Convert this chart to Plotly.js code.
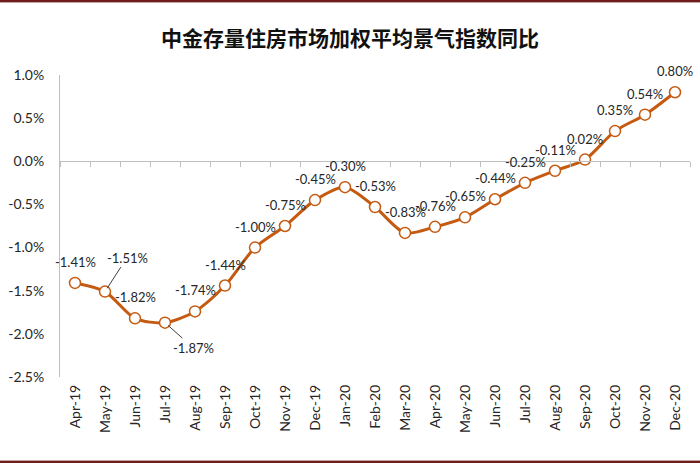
<!DOCTYPE html>
<html>
<head>
<meta charset="utf-8">
<script src="https://cdn.plot.ly/plotly-3.0.1.min.js"></script>
<style>
html,body{margin:0;padding:0;background:#fff;}
#wrap{position:relative;width:700px;height:464px;overflow:hidden;}
#chart{position:absolute;left:0;top:0;width:700px;height:464px;}
.bar{position:absolute;left:0;width:700px;}
</style>
</head>
<body>
<div id="wrap">
<div id="chart"></div>
<div class="bar" style="top:0;height:2px;background:#6f1c1c;"></div>
<div class="bar" style="top:2px;height:1px;background:#c7a3a3;"></div>
<div class="bar" style="top:460px;height:1px;background:#c7a3a3;"></div>
<div class="bar" style="top:461px;height:2px;background:#6f1c1c;"></div>
</div>
<script>
const months = ["Apr-19","May-19","Jun-19","Jul-19","Aug-19","Sep-19","Oct-19","Nov-19","Dec-19","Jan-20","Feb-20","Mar-20","Apr-20","May-20","Jun-20","Jul-20","Aug-20","Sep-20","Oct-20","Nov-20","Dec-20"];
const yoy = [-1.41,-1.51,-1.82,-1.87,-1.74,-1.44,-1.00,-0.75,-0.45,-0.30,-0.53,-0.83,-0.76,-0.65,-0.44,-0.25,-0.11,0.02,0.35,0.54,0.80];
const yTicks = [1.0,0.5,0.0,-0.5,-1.0,-1.5,-2.0,-2.5];
const titleText = "中金存量住房市场加权平均景气指数同比";

const lineColor = "#c55a11";
const txtColor = "#262626";
const fontFam = "Lato, 'Noto Sans', sans-serif";

const main = {
  x: months, y: yoy, type: "scatter", mode: "lines+markers",
  line: {color: lineColor, width: 3, shape: "spline", smoothing: 0.8},
  marker: {size: 11, color: "#ffffff", line: {color: lineColor, width: 1.5}},
  hoverinfo: "skip", cliponaxis: false
};
const ghost = {
  x: months, y: yoy, type: "scatter", mode: "lines", xaxis: "x2",
  line: {width: 0}, opacity: 0, hoverinfo: "skip", showlegend: false
};

const fmt = v => v.toFixed(2) + "%";
const leader = {1: {ax: 22, ay: -34}, 3: {ax: 28, ay: 25}};
const annotations = months.map((m, i) => {
  const base = {x: m, y: yoy[i], xref: "x", yref: "y", text: fmt(yoy[i]),
    font: {family: fontFam, size: 13, color: txtColor}};
  if (leader[i]) {
    return Object.assign(base, {showarrow: true, arrowhead: 0, arrowwidth: 1,
      arrowcolor: "#404040", ax: leader[i].ax, ay: leader[i].ay, standoff: 4});
  }
  return Object.assign(base, {showarrow: false, yshift: 21});
});

const layout = {
  width: 700, height: 464,
  margin: {l: 60, r: 10, t: 75, b: 87},
  paper_bgcolor: "#ffffff", plot_bgcolor: "#ffffff",
  showlegend: false,
  title: {text: "<b>" + titleText + "</b>", x: 0.5, xanchor: "center", y: 1 - 39/464, yanchor: "middle",
    font: {family: "'Noto Sans CJK SC', sans-serif", size: 21, color: "#111"}},
  xaxis: {type: "category", categoryarray: months, range: [-0.5, months.length - 0.5],
    showline: false, showgrid: false, zeroline: false, ticks: "", tickangle: -90,
    tickfont: {family: fontFam, size: 14, color: txtColor}, ticklabelstandoff: 4},
  xaxis2: {type: "category", categoryarray: months, range: [-0.5, months.length - 0.5],
    overlaying: "x", anchor: "free", position: 2.5/3.5,
    showline: true, linecolor: "#bfbfbf", linewidth: 1, showgrid: false, zeroline: false,
    ticks: "outside", tickson: "boundaries", ticklen: 5, tickcolor: "#bfbfbf", showticklabels: false},
  yaxis: {range: [-2.5, 1.0], tickvals: yTicks, ticktext: yTicks.map(v => v.toFixed(1) + "%"),
    showgrid: false, zeroline: false, showline: true, linecolor: "#bfbfbf", linewidth: 1,
    ticks: "", tickfont: {family: fontFam, size: 14, color: txtColor}, ticklabelstandoff: 12},
  annotations: annotations
};

Plotly.newPlot("chart", [ghost, main], layout, {displayModeBar: false, staticPlot: true});
</script>
</body>
</html>
